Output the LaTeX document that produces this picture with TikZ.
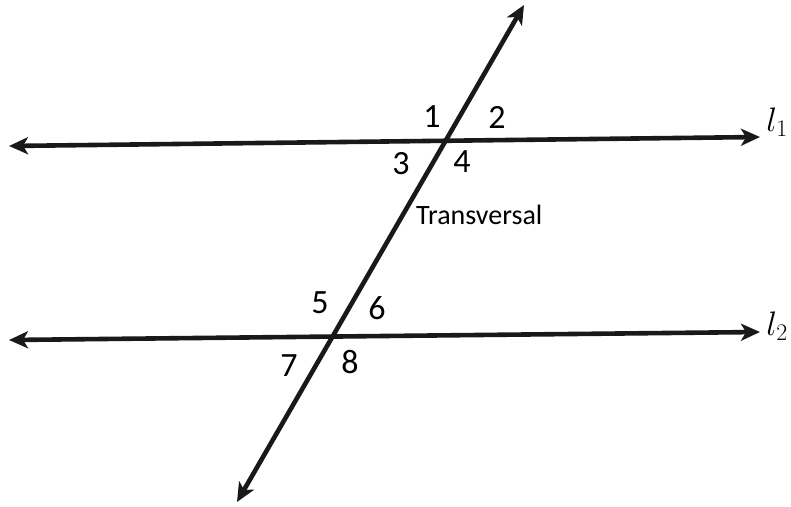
\RequirePackage{fix-cm}
\documentclass[tikz,border=0pt]{standalone}
\usepackage{amsmath,amssymb}
\usepackage{xcolor}
\usepackage{fontspec}
\setsansfont{Carlito}
\usepackage{tikz}
\usetikzlibrary{arrows.meta,calc,intersections}

\begin{document}
\begin{tikzpicture}[x=1pt,y=-1pt,font=\sffamily,
  ray/.style={black!90,line width=4.6pt,{Stealth[length=19pt,width=17pt,inset=5pt]}-{Stealth[length=19pt,width=17pt,inset=5pt]}},
  anglab/.style={font=\fontsize{34}{34}\sffamily,inner sep=0pt},
  linelab/.style={font=\fontsize{34}{34}\selectfont,inner sep=0pt}]
\useasboundingbox (0,0) rectangle (791,506);
\coordinate (l1a) at (9,146);
\coordinate (l1b) at (760,137);
\coordinate (l2a) at (9,340);
\coordinate (l2b) at (760,332);
\coordinate (ta) at (237,502);
\coordinate (tb) at (524,5);
\draw[ray,name path=line1] (l1a) -- (l1b);
\draw[ray,name path=line2] (l2a) -- (l2b);
\draw[ray,name path=trans] (ta) -- (tb);
\path[name intersections={of=line1 and trans,by=P}];
\path[name intersections={of=line2 and trans,by=Q}];
\node[anglab] (a1) at (432,117) {1};
\node[anglab] (a2) at (497,117) {2};
\node[anglab] (a3) at (401,164) {3};
\node[anglab] (a4) at (462,162) {4};
\node[anglab] (a5) at (320,303) {5};
\node[anglab] (a6) at (377,308) {6};
\node[anglab] (a7) at (289,366) {7};
\node[anglab] (a8) at (350,362) {8};
\node[anchor=west,inner sep=0pt,font=\fontsize{28}{28}\sffamily] (tlab) at (416,215) {Transversal};
\node[linelab] (n1) at (777,122) {$l_1$};
\node[linelab] (n2) at (777,326) {$l_2$};
\end{tikzpicture}
\end{document}
